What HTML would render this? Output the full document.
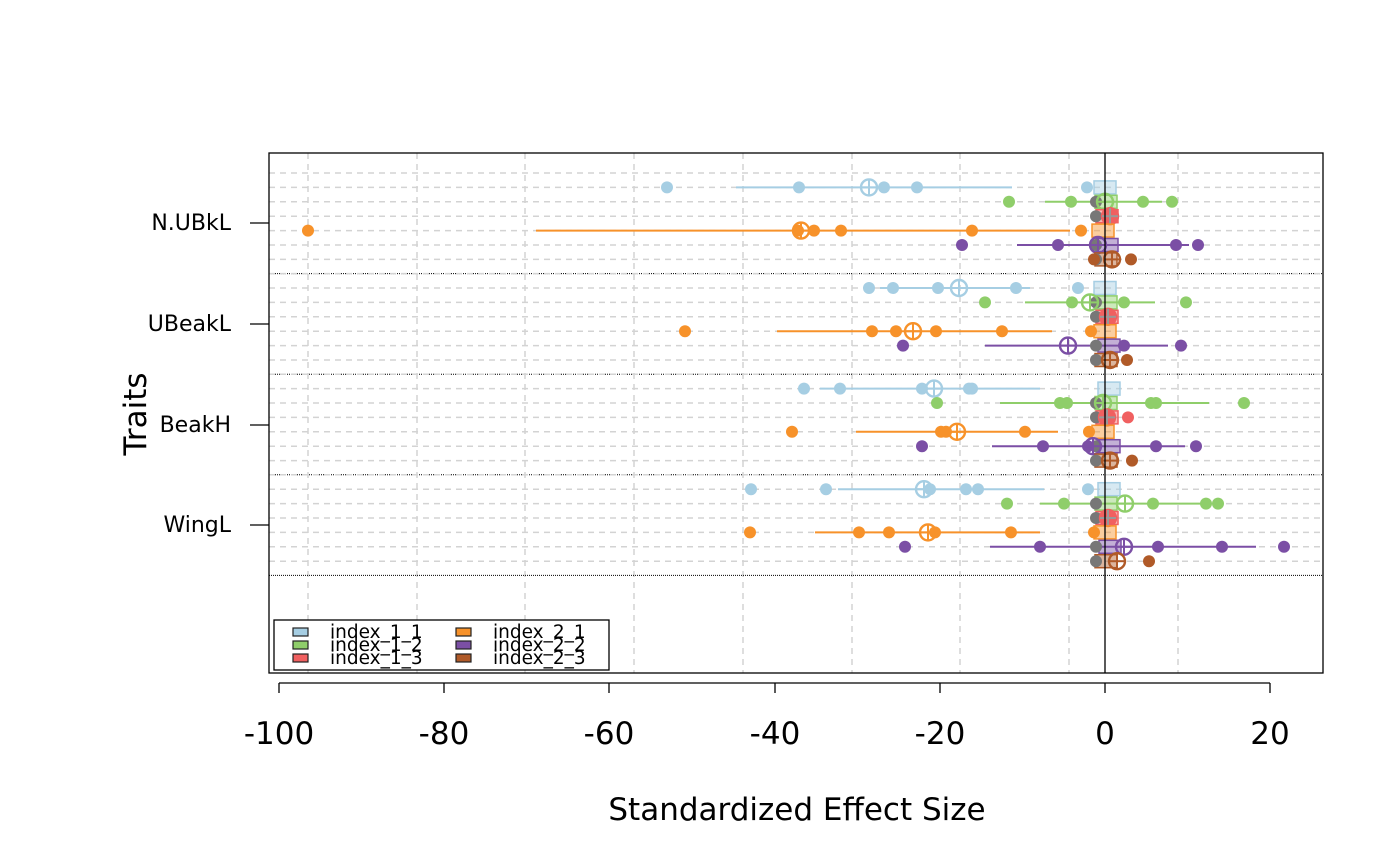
<!DOCTYPE html>
<html><head><meta charset="utf-8"><style>body{margin:0;background:#fff}svg{display:block}text{font-family:"DejaVu Sans","Liberation Sans",sans-serif}</style></head><body>
<svg id="s" width="1400" height="866" xmlns="http://www.w3.org/2000/svg">
<rect width="1400" height="866" fill="#fff"/>
<g id="grid"></g>
<g id="data"></g>
<rect x="269" y="153" width="1054" height="520" fill="none" stroke="#000" stroke-width="1.3"/>
<line x1="1105" y1="153" x2="1105" y2="673" stroke="#000" stroke-width="1.3"/>
<g stroke="#000" stroke-width="1.3">
<line x1="279" y1="683" x2="1270" y2="683"/>
<line x1="279" y1="683" x2="279" y2="693"/><line x1="444" y1="683" x2="444" y2="693"/><line x1="609" y1="683" x2="609" y2="693"/><line x1="775" y1="683" x2="775" y2="693"/><line x1="940" y1="683" x2="940" y2="693"/><line x1="1105" y1="683" x2="1105" y2="693"/><line x1="1270" y1="683" x2="1270" y2="693"/>
<line x1="250" y1="223" x2="269" y2="223"/><line x1="250" y1="324" x2="269" y2="324"/><line x1="250" y1="425" x2="269" y2="425"/><line x1="250" y1="525" x2="269" y2="525"/>
</g>
<g font-size="31" text-anchor="middle">
<text x="279" y="744">-100</text><text x="444" y="744">-80</text><text x="609" y="744">-60</text><text x="775" y="744">-40</text><text x="940" y="744">-20</text><text x="1105" y="744">0</text><text x="1270" y="744">20</text>
<text x="797" y="820">Standardized Effect Size</text>
</g>
<g font-size="22" text-anchor="end">
<text x="231" y="230">N.UBkL</text><text x="231" y="331">UBeakL</text><text x="231" y="432">BeakH</text><text x="231" y="532">WingL</text>
</g>
<text x="146" y="414" font-size="31" text-anchor="middle" transform="rotate(-90 146 414)">Traits</text>
<rect x="274" y="620" width="335" height="50" fill="#fff" stroke="#000" stroke-width="1.3"/>
<g stroke="#222" stroke-width="1.2">
<rect x="293" y="628" width="15" height="8" fill="#a6cee3"/><rect x="293" y="641" width="15" height="8" fill="#8fce6a"/><rect x="293" y="654" width="15" height="8" fill="#f06060"/>
<rect x="456" y="628" width="15" height="8" fill="#f7922a"/><rect x="456" y="641" width="15" height="8" fill="#7b4fa5"/><rect x="456" y="654" width="15" height="8" fill="#b05a28"/>
</g>
<g font-size="18.5">
<text x="330" y="638">index_1_1</text><text x="330" y="651">index_1_2</text><text x="330" y="664">index_1_3</text>
<text x="493" y="638">index_2_1</text><text x="493" y="651">index_2_2</text><text x="493" y="664">index_2_3</text>
</g>
</svg>
<script>
var NS="http://www.w3.org/2000/svg";
function el(p,t,a){var e=document.createElementNS(NS,t);for(var k in a)e.setAttribute(k,a[k]);p.appendChild(e);return e;}
var G=document.getElementById('grid'),D=document.getElementById('data');
[308,417,525,634,743,852,960,1069,1178].forEach(function(x){el(G,'line',{x1:x,y1:153,x2:x,y2:673,stroke:'#d3d3d3','stroke-width':1.5,'stroke-dasharray':'6,5'});});
for(var g=0;g<4;g++){var b=173+g*100.6;for(var i=0;i<7;i++){var y=b+14.4*i;el(G,'line',{x1:269,y1:y,x2:1323,y2:y,stroke:'#d3d3d3','stroke-width':1.5,'stroke-dasharray':'6,5'});}
el(G,'line',{x1:269,y1:b+100.6,x2:1323,y2:b+100.6,stroke:'#000','stroke-width':1,'stroke-dasharray':'1,1'});}
var C=['#a6cee3','#8fce6a','#f06060','#f7922a','#7b4fa5','#b05a28'];
var data=[
[[736,1012,[667,799,884,917,1087],869,1105],[1045,1162,[1009,1071,1143,1172],1105,1106],[0,0,[],1110,1107],[536,1070,[308,798,814,841,972,1081],801,1103],[1017,1189,[962,1058,1176,1198],1098,1107],[0,0,[1094,1131],1112,1106]],
[[880,1030,[869,893,938,1016,1078],959,1105],[1025,1155,[985,1072,1124,1186],1090,1106],[0,0,[],1108,1107],[777,1052,[685,872,896,936,1002,1091],913,1105],[985,1168,[903,1124,1181],1068,1109],[0,0,[1127],1110,1106]],
[[820,1040,[804,840,922,969,972],934,1109],[1000,1209,[937,1060,1067,1151,1156,1244],1103,1106],[0,0,[1128],1107,1107],[856,1058,[792,941,946,1025,1089],957,1103],[992,1185,[922,1043,1088,1156,1196],1093,1109],[0,0,[1132],1110,1106]],
[[838,1044,[751,826,930,966,978,1088],924,1109],[1040,1207,[1007,1064,1153,1206,1218],1125,1106],[0,0,[],1108,1107],[815,1040,[750,859,889,935,1011,1094],928,1105],[990,1256,[905,1040,1158,1222,1284],1124,1110],[0,0,[1149],1117,1106]]
];
for(var g=0;g<4;g++){var b=173+g*100.6;for(var i=0;i<6;i++){var y=b+14.4*(i+1),r=data[g][i],c=C[i];
if(r[1]>r[0])el(D,'line',{x1:r[0],y1:y,x2:r[1],y2:y,stroke:c,'stroke-width':2});
el(D,'rect',{x:r[4]-11,y:y-6.5,width:22,height:13,fill:c,'fill-opacity':0.45,stroke:c,'stroke-width':1.5});
if(i>=1&&i!=3)el(D,'circle',{cx:1096,cy:y,r:6,fill:'#777'});
r[2].forEach(function(x){el(D,'circle',{cx:x,cy:y,r:6,fill:c});});
var x=r[3];el(D,'circle',{cx:x,cy:y,r:8,fill:i==2?c:'none',stroke:c,'stroke-width':2.4});
el(D,'line',{x1:x-8,y1:y,x2:x+8,y2:y,stroke:i==2?'#999':c,'stroke-width':2});
el(D,'line',{x1:x,y1:y-8,x2:x,y2:y+8,stroke:i==2?'#999':c,'stroke-width':2});
}}
</script>
</body></html>
